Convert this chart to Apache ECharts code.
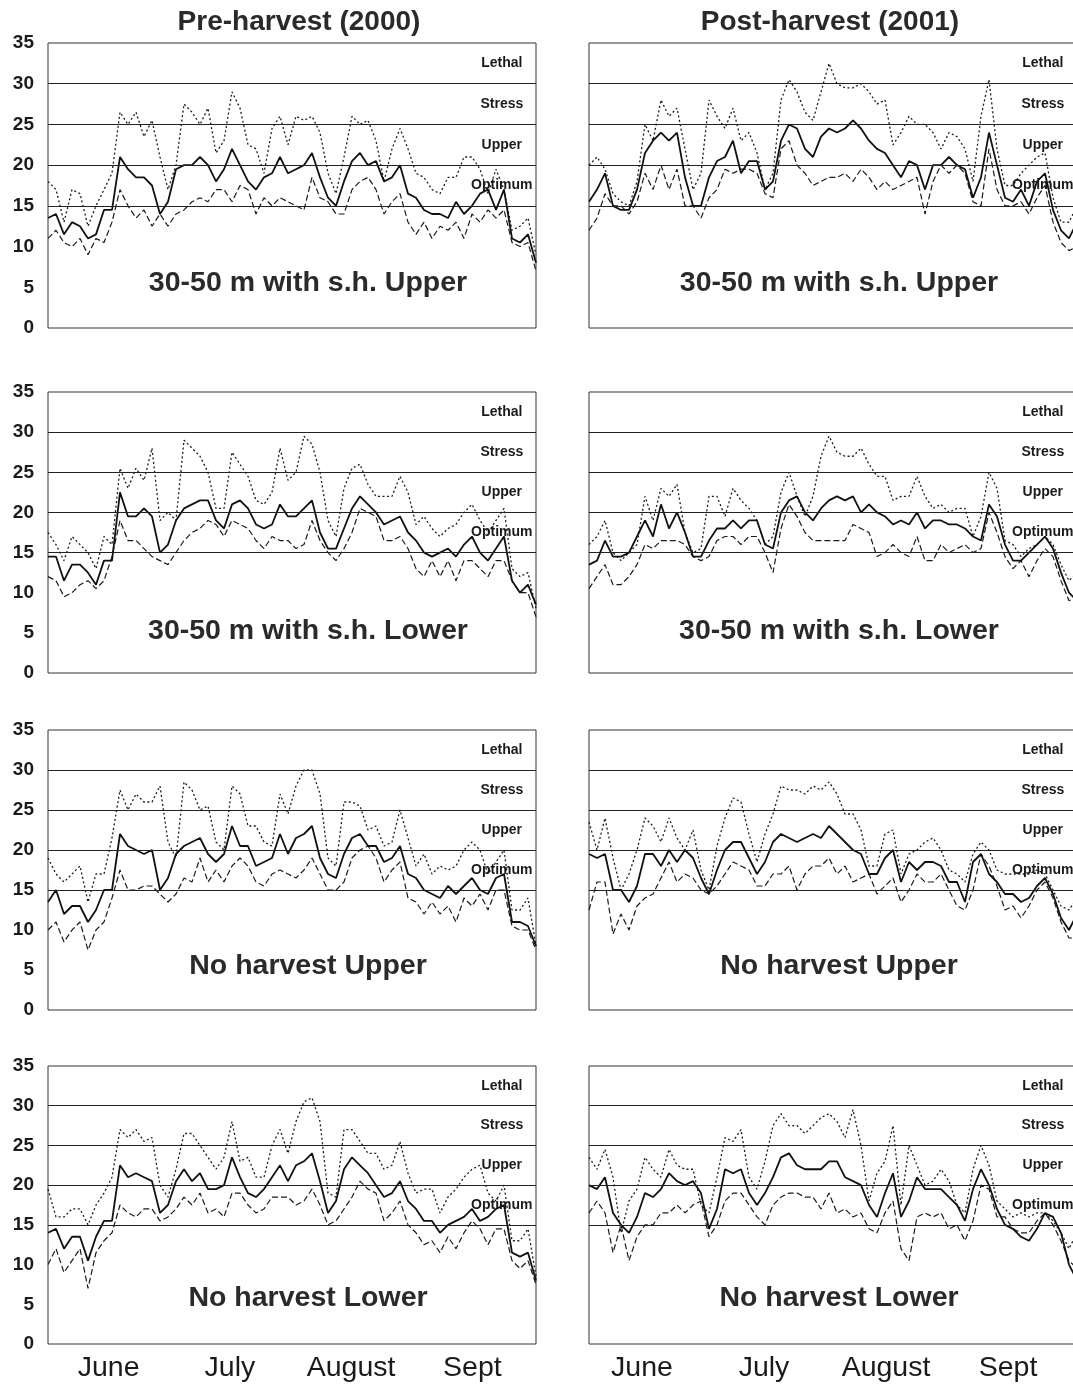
<!DOCTYPE html>
<html>
<head>
<meta charset="utf-8">
<title>Stream temperature, pre- and post-harvest</title>
<script src="https://cdn.jsdelivr.net/npm/echarts@6.0.0/dist/echarts.min.js"></script>
<style>
  html, body { margin: 0; padding: 0; background: #fff; overflow: hidden; }
  #chart { width: 1073px; height: 1384px; }
</style>
</head>
<body>
<div id="chart"></div>
<script>
// sample days from June 1 (every second day)
const days = [];
for (let d = 0; d <= 122; d += 2) days.push(d);
const months = ['June', 'July', 'August', 'Sept'];
const yTicks = [0, 5, 10, 15, 20, 25, 30, 35];
const zones = ['Optimum', 'Upper', 'Stress', 'Lethal'];
const zoneLimits = [15, 20, 25, 30, 35];

// Pre-harvest 2000, 30-50 m with s.h. Upper
const preShUpMax = [18,17,13,17,16.5,12.5,15,17,19,26.5, 25,26.5,23.5,25.5,21,17,20,27.5,26.5,25, 27,21.5,23,29,27,22.5,22,19,24.5,26, 22.5,26,25.5,26,24,19,16.5,21,26,25, 25.5,23,18,22,24.5,22,19,18.5,17,16.5, 18.5,18.5,21,21,19.5,16.5,19.5,17,12,12.5, 13.5,9];
const preShUpMean = [13.5,14,11.5,13,12.5,11,11.5,14.5,14.5,21, 19.5,18.5,18.5,17.5,14,15.5,19.5,20,20,21, 20,18,19.5,22,20,18,17,18.5,19,21, 19,19.5,20,21.5,18.5,16,15,18,20.5,21.5, 20,20.5,18,18.5,20,16.5,16,14.5,14,14, 13.5,15.5,14,15,16.5,17,14.5,17,11,10.5, 11.5,8];
const preShUpMin = [11,12,10.5,10,11,9,11,10.5,13,17, 15,13.5,14.5,12.5,14,12.5,14,14.5,15.5,16, 15.5,17,17,15.5,17.5,17,14,16,15,16, 15.5,15,14.5,18.5,16,15.5,14,14,17,18, 18.5,17,14,15.5,16.5,13,11.5,13,11,12.5, 12,13,11,14,13,14.5,13.5,14.5,10.5,10, 10.5,7];

// Post-harvest 2001, 30-50 m with s.h. Upper
const postShUpMax = [20,21,19.5,16.5,15.5,15,18,25,23,28, 26,27,22,17,19,28,26,24.5,27,23, 24,21.5,17,19,28,30.5,29,26.5,25.5,29, 32.5,30,29.5,29.5,30,29,27.5,28,22.5,24, 26,25,25,24,22,24,23.5,22,18,26, 30.5,22,17.5,17.5,19,20,21,21.5,16,13, 13,15];
const postShUpMean = [15.5,17,19,15,14.5,14.5,17,21.5,23,24, 23,24,18.5,15,15,18.5,20.5,21,23,19, 20.5,20.5,17,18,23,25,24.5,22,21,23.5, 24.5,24,24.5,25.5,24.5,23,22,21.5,20,18.5, 20.5,20,17,20,20,21,20,19.5,16,18.5, 24,20,16,15.5,17,15,18,19,14.5,12, 11,13];
const postShUpMin = [12,13.5,16.5,15,15,14,15.5,19,17,20, 17,19.5,15,15,13.5,16,17,19.5,19,19.5, 19.5,19,16.5,16,22,23,20,19,17.5,18, 18.5,18.5,19,18,19.5,18.5,17,18,17,17.5, 18,18.5,14,18,20,19,20,19,15.5,15, 22,17,15,15,15.5,14,16,17.5,13,10.5, 9.5,10];

// Pre-harvest 2000, 30-50 m with s.h. Lower
const preShLowMax = [17.5,16,14,17,16,15,13,17,16,25.5, 23,25.5,24,28,19,20,19,29,28,27, 25,20.5,20.5,27.5,26,24.5,21.5,21,22.5,28, 24,25,29.5,28.5,25,19,17,23,25.5,26, 23.5,22,22,22,24.5,22.5,18.5,19.5,18,17, 18,18.5,20,21,19,17.5,19,20.5,13,12, 12.5,8];
const preShLowMean = [14.5,14.5,11.5,13.5,13.5,12.5,11,14,14,22.5, 19.5,19.5,20.5,19.5,15,16,19,20.5,21,21.5, 21.5,19,18,21,21.5,20.5,18.5,18,18.5,21, 19.5,19.5,20.5,21.5,17.5,15.5,15.5,18,20.5,22, 21,20,18.5,19,19.5,17.5,16.5,15,14.5,15, 15.5,14.5,16,17,15,14,15.5,17,11.5,10, 11,8.5];
const preShLowMin = [12,11.5,9.5,10,11,11.5,10.5,11.5,14.5,19, 16.5,16.5,15.5,14.5,14,13.5,15,16.5,17.5,18, 19,18.5,17,19,18.5,18,16.5,15.5,17,16.5, 16.5,15.5,16,19,16.5,15,14,15.5,17.5,20.5, 20,19.5,16.5,16.5,17,15.5,13,12,14,12, 14,11.5,14,14,13,12,14,14,11.5,10, 10,7];

// Post-harvest 2001, 30-50 m with s.h. Lower
const postShLowMax = [16,17,19,15,14,15,16,22,19,23, 22,23.5,17.5,15,15.5,22,22,19.5,23,21.5, 20.5,19,16,17,22.5,25,22,19.5,22,27, 29.5,27.5,27,27,28,26,24.5,24.5,21.5,22, 22,24.5,22,20.5,21,20,20.5,20.5,17,19.5, 25,23,16.5,16,14.5,15.5,16,17,16,13.5, 11.5,12.5];
const postShLowMean = [13.5,14,16.5,14.5,14.5,15,17,19,17,21, 18,20,17.5,14.5,14.5,16.5,18,18,19,18, 19,19,16,15.5,20,21.5,22,20,19,20.5, 21.5,22,21.5,22,20,21,20,19.5,18.5,19, 18.5,20,18,19,19,18.5,18.5,18,17,16.5, 21,19.5,16,14,14,15,16,17,15.5,12.5, 10,9];
const postShLowMin = [10.5,12,13.5,11,11,12,13.5,16,15.5,16.5, 16.5,16.5,16,14.5,14,14.5,16.5,17,17,16, 17,17,15,12.5,18,21,19.5,17.5,16.5,16.5, 16.5,16.5,16.5,18.5,18,17.5,14.5,15,16,15, 14.5,17,14,14,16,15,15.5,16,15,15.5, 20,17.5,14.5,13,14,12,14,15.5,14.5,11.5, 9,9.5];

// Pre-harvest 2000, No harvest Upper
const preNoUpMax = [19,17,16,17,18,13.5,17,17,21.5,27.5, 25,27,26,26,28,21,19,28.5,27.5,25, 25.5,21,20,28,27,23,23,21,20.5,27, 24.5,28,30,30,27,19,18,26,26,25.5, 22.5,23,20.5,21,25,21.5,18,19.5,17,18, 17.5,18,20,21,20,17,18.5,20,12.5,12.5, 14,8];
const preNoUpMean = [13.5,15,12,13,13,11,12.5,15,15,22, 20.5,20,19.5,20,15,16.5,19.5,20.5,21,21.5, 19.5,18.5,19.5,23,20.5,20.5,18,18.5,19,22, 19.5,21.5,22,23,19,17,16.5,19.5,21.5,22, 20.5,20.5,18.5,19,20.5,17,16.5,15,14.5,14, 15.5,14.5,15.5,16.5,15,14.5,16.5,17,11,11, 10.5,8];
const preNoUpMin = [10,11,8.5,10,11,7.5,10,11,14,17.5, 15,15,15.5,15.5,14.5,13.5,14.5,16.5,16,19, 16,17.5,16,18,19,18,16,15.5,17,17.5, 17,16.5,17.5,19,17,15,15,16,19,20, 20.5,19,16,17.5,18.5,14,13.5,12,13.5,12, 13,11,14,13,14.5,12.5,15,15,10.5,10, 10,7.5];

// Post-harvest 2001, No harvest Upper
const postNoUpMax = [23.5,20,24,19,15,17,20,24,23,21, 24,21.5,20,22.5,17.5,15,20.5,24,26.5,26, 22,18.5,22,24.5,28,27.5,27.5,27,28,27.5, 28.5,27,24.5,24.5,22.5,18,18,22,22.5,17, 19.5,20,21,21.5,20,17.5,17,16,19.5,21, 20,17.5,17,17,17,17,17.5,17,15,13, 12.5,14];
const postNoUpMean = [19.5,19,19.5,15,15,13.5,15.5,19.5,19.5,18, 20,18.5,20,19,16.5,14.5,17.5,20,21,21, 19,17,18.5,21,22,21.5,21,21.5,22,21.5, 23,22,21,20,19.5,17,17,19,20,16, 18.5,17.5,18.5,18.5,18,16,16,13.5,18.5,19.5, 17,16,14.5,14.5,13.5,14,15.5,16.5,14.5,11.5, 10,12];
const postNoUpMin = [12.5,16,16,9.5,12,10,13,14,14.5,16.5, 18.5,16,17,16.5,15,14.5,15.5,17,18.5,18, 17.5,15.5,15.5,17,17,18,15,17,18,18, 19,17,18,16,16.5,17,14.5,15.5,16.5,13.5, 15,17,16,16,17,15,13,12.5,15,19.5, 18,15.5,12.5,13,11.5,13,15,16,14,11, 9,9];

// Pre-harvest 2000, No harvest Lower
const preNoLowMax = [19.5,16,16,17,17,15,17.5,19,21,27, 26,27,25.5,26,20,18.5,22,26.5,26.5,25, 23.5,22,23.5,28,23,23.5,21,21,25,27, 24,28,30.5,31,28,19,18.5,27,27,25.5, 24,24,22,22.5,25.5,21.5,19,19.5,19.5,16.5, 18.5,19.5,21,22,22.5,19,18,20,13,13, 14.5,8.5];
const preNoLowMean = [14,14.5,12,13.5,13.5,10.5,13.5,15.5,15.5,22.5, 21,21.5,21,20.5,16.5,17.5,20.5,22,20.5,21.5, 19.5,19.5,20,23.5,21,19,18.5,19.5,21,22.5, 20.5,22.5,23,24,20.5,16.5,18,22,23.5,22.5, 21.5,20,18.5,19,20.5,18,17,15.5,15.5,14, 15,15.5,16,17,15.5,16,17,17.5,11.5,11, 11.5,8];
const preNoLowMin = [10,12,9,10.5,12,7,11.5,13,14,17.5, 16.5,16,17,17,15.5,16,17,18.5,17.5,19, 16.5,17,16,19,19,17.5,16.5,17,18.5,18.5, 18.5,17.5,18,19.5,17.5,15,15.5,17,18.5,20.5, 19.5,19,15.5,16.5,18,15,14,12.5,13,11.5, 13.5,12,14,15.5,14.5,12.5,14.5,14.5,10.5,9.5, 10.5,7.5];

// Post-harvest 2001, No harvest Lower
const postNoLowMax = [23.5,22,24.5,21,14,18,19.5,23.5,22,21, 24.5,22.5,22,22,17.5,16.5,21,26,25.5,27, 21,19.5,23,27.5,29,27.5,27.5,26.5,27.5,28.5, 29,28,26,29.5,25,18,21.5,23,27.5,17.5, 25,22.5,20,20.5,22,20.5,17.5,16.5,22,25, 22.5,18,17,16,16.5,16,16.5,16.5,15.5,14, 12,14];
const postNoLowMean = [20,19.5,21,16.5,15,14,16,19,18.5,19.5, 21.5,20.5,20,20.5,19,14.5,17,22,21.5,22, 19,17.5,19,21,23.5,24,22.5,22,22,22, 23,23,21,20.5,20,17.5,16,19,21.5,16, 18,21,19.5,19.5,19.5,18.5,17.5,15.5,19.5,22, 20,17,15,14.5,13.5,13,14.5,16.5,16,14, 10,8];
const postNoLowMin = [16.5,18,16.5,11.5,15,10.5,13.5,15,15,16.5, 16.5,17.5,16.5,17.5,18,13.5,15,18,19,19, 17.5,16,15,17.5,18.5,19,19,18.5,18.5,17, 19,16.5,17,16,16.5,14.5,14,16.5,18,12, 10.5,16,16.5,16,16.5,14.5,15,13,15.5,20, 19.5,16,16,14.5,14,14,15.5,16.5,15,13, 10.5,9.5];

const panels = [
  { row: 0, col: 0, label: '30-50 m with s.h. Upper', max: preShUpMax, mean: preShUpMean, min: preShUpMin },
  { row: 0, col: 1, label: '30-50 m with s.h. Upper', max: postShUpMax, mean: postShUpMean, min: postShUpMin },
  { row: 1, col: 0, label: '30-50 m with s.h. Lower', max: preShLowMax, mean: preShLowMean, min: preShLowMin },
  { row: 1, col: 1, label: '30-50 m with s.h. Lower', max: postShLowMax, mean: postShLowMean, min: postShLowMin },
  { row: 2, col: 0, label: 'No harvest Upper', max: preNoUpMax, mean: preNoUpMean, min: preNoUpMin },
  { row: 2, col: 1, label: 'No harvest Upper', max: postNoUpMax, mean: postNoUpMean, min: postNoUpMin },
  { row: 3, col: 0, label: 'No harvest Lower', max: preNoLowMax, mean: preNoLowMean, min: preNoLowMin },
  { row: 3, col: 1, label: 'No harvest Lower', max: postNoLowMax, mean: postNoLowMean, min: postNoLowMin }
];

const FONT = '"Liberation Sans", Arial, sans-serif';
const INK = '#1a1a1a';
const colLeft = [48, 589];
const rowTop = [43, 392, 730, 1066];
const rowHeight = [285, 281, 280, 278];
const plotWidth = 488;
const labelCenterX = [308, 839];
const labelY = [283, 631, 966, 1298];

function pairs(arr) {
  return arr.map((v, i) => [days[i], v]);
}

const grid = [], xAxis = [], yAxis = [], series = [], graphic = [];

panels.forEach((p, i) => {
  // right column runs off the page edge, as in the scan
  grid.push({
    left: colLeft[p.col], top: rowTop[p.row], width: plotWidth, height: rowHeight[p.row],
    outerBoundsMode: 'none', containLabel: false,
    show: true, borderColor: '#333', borderWidth: 1, backgroundColor: 'transparent'
  });
  xAxis.push({ gridIndex: i, type: 'value', min: 0, max: 122, show: false });
  yAxis.push({
    gridIndex: i, type: 'value', min: yTicks[0], max: yTicks[yTicks.length - 1], interval: 5,
    axisLine: { show: false }, axisTick: { show: false }, splitLine: { show: false },
    axisLabel: { show: p.col === 0, fontSize: 19, fontWeight: 'bold', color: INK, margin: 14, fontFamily: FONT }
  });

  const areas = zones.map((z, k) => [
    { yAxis: zoneLimits[k], name: z },
    { yAxis: zoneLimits[k + 1] }
  ]);

  series.push({
    type: 'line', xAxisIndex: i, yAxisIndex: i, data: pairs(p.max),
    symbol: 'none', animation: false, z: 3,
    lineStyle: { color: INK, width: 1.3, type: [2, 2.5] },
    markLine: {
      silent: true, symbol: 'none', animation: false,
      label: { show: false },
      lineStyle: { type: 'solid', color: '#222', width: 1 },
      data: zoneLimits.slice(0, 4).map(v => ({ yAxis: v }))
    },
    markArea: {
      silent: true, animation: false,
      itemStyle: { color: 'rgba(0,0,0,0)' },
      label: {
        show: true, position: ['93%', '50%'], align: 'center', verticalAlign: 'middle',
        fontSize: 14, fontWeight: 'bold', color: INK, fontFamily: FONT
      },
      data: areas
    }
  });
  series.push({
    type: 'line', xAxisIndex: i, yAxisIndex: i, data: pairs(p.mean),
    symbol: 'none', animation: false, z: 4,
    lineStyle: { color: '#111', width: 1.8, type: 'solid' }
  });
  series.push({
    type: 'line', xAxisIndex: i, yAxisIndex: i, data: pairs(p.min),
    symbol: 'none', animation: false, z: 3,
    lineStyle: { color: INK, width: 1.2, type: [6, 3] }
  });

  graphic.push({
    type: 'text', x: labelCenterX[p.col], y: labelY[p.row], z: 10,
    style: {
      text: p.label, font: 'bold 28.5px ' + FONT, fill: '#2a2a2a',
      textAlign: 'center', textVerticalAlign: 'middle', align: 'center', verticalAlign: 'middle'
    }
  });
});

// month labels under the bottom row
[[48, 485], [581, 488]].forEach(([left, width], k) => {
  const gi = panels.length + k;
  grid.push({ left: left, top: 1344, width: width, height: 1, show: false, outerBoundsMode: 'none' });
  xAxis.push({
    gridIndex: gi, type: 'category', data: months, position: 'bottom', boundaryGap: true,
    axisLine: { show: false }, axisTick: { show: false },
    axisLabel: { fontSize: 28.5, color: INK, margin: 9, fontFamily: FONT }
  });
  yAxis.push({ gridIndex: gi, type: 'value', show: false });
});

graphic.push(
  { type: 'text', x: 299, y: 22, style: { text: 'Pre-harvest (2000)', font: 'bold 28px ' + FONT, fill: '#2a2a2a', textAlign: 'center', textVerticalAlign: 'middle', align: 'center', verticalAlign: 'middle' } },
  { type: 'text', x: 830, y: 22, style: { text: 'Post-harvest (2001)', font: 'bold 28px ' + FONT, fill: '#2a2a2a', textAlign: 'center', textVerticalAlign: 'middle', align: 'center', verticalAlign: 'middle' } }
);

const chart = echarts.init(document.getElementById('chart'), null, { renderer: 'canvas' });
chart.setOption({
  backgroundColor: '#fff',
  animation: false,
  textStyle: { fontFamily: FONT },
  grid: grid,
  xAxis: xAxis,
  yAxis: yAxis,
  series: series,
  graphic: graphic
});
</script>
</body>
</html>
